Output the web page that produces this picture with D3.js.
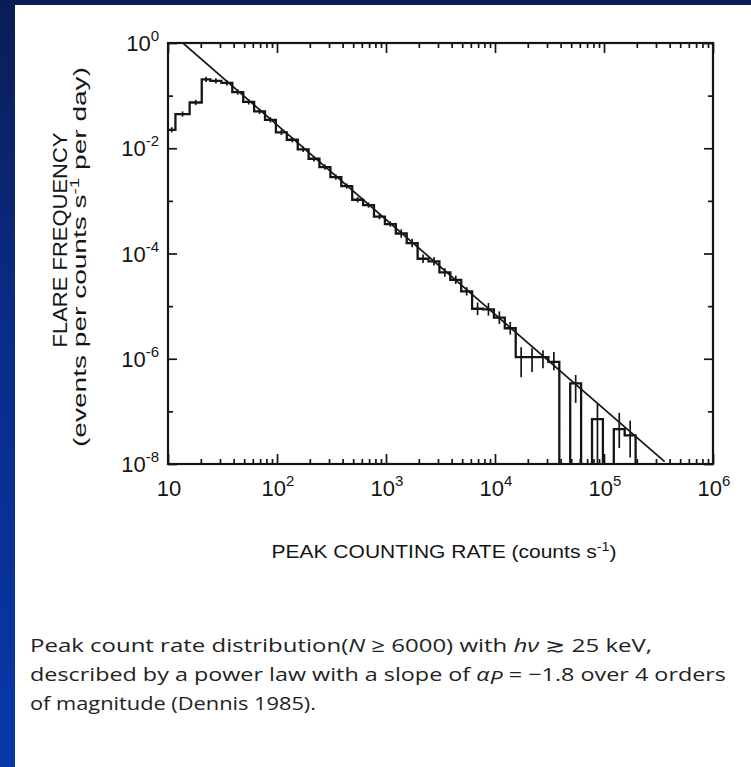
<!DOCTYPE html>
<html><head><meta charset="utf-8">
<script src="https://cdn.jsdelivr.net/npm/d3@7"></script>
<style>
html,body{margin:0;padding:0;}
body{width:751px;height:767px;overflow:hidden;background:linear-gradient(to bottom,#0b1d57 0%,#0a2c8a 45%,#0838a8 100%);}
svg{display:block;}
</style></head><body>
<svg id="chart" width="751" height="767"></svg>
<script>
// ---- data ----
// histogram bin edges, peak counting rate (counts s^-1)
const binEdges = [10, 11.7, 15.8, 20.4, 24.5, 30.9, 38.9, 49.0, 61.7, 77.6, 97.7,
  123, 155, 195, 245, 309, 389, 490, 617, 776, 977,
  1230, 1549, 1950, 2455, 3090, 3890, 4898, 6166, 7762, 9772,
  12303, 15488, 19498, 24547, 30903, 38905, 48978, 61660, 77625, 97724,
  123027, 154882, 194984];
// flare frequency per bin (events per counts s^-1 per day); 0 = empty bin
const frequency = [0.0224, 0.0447, 0.0741, 0.204, 0.191, 0.174, 0.117, 0.0759, 0.0501, 0.0347,
  0.0200, 0.0145, 0.00955, 0.00631, 0.00437, 0.00282, 0.00191, 0.00105, 0.000832, 0.000501,
  0.000363, 0.000240, 0.000158, 7.94e-5, 7.08e-5, 4.37e-5, 3.16e-5, 1.91e-5, 8.91e-6, 8.71e-6,
  6.03e-6, 3.80e-6, 1.07e-6, 1.07e-6, 1.07e-6, 8.7e-7, 0, 3.4e-7, 0, 7.1e-8,
  0, 4.6e-8, 3.5e-8];
// error bar extent above / below each value, in decades
const errUpDex = [0.05,0.05,0.05,0.05,0.05,0.05,0.05,0.05,0.05,0.05,
  0.05,0.05,0.05,0.05,0.05,0.05,0.05,0.05,0.05,0.05,
  0.05,0.08,0.08,0.08,0.08,0.08,0.08,0.08,0.12,0.12,
  0.12,0.12,0.19,0.17,0.13,0.19,0,0.16,0,0.31,
  0,0.31,0.28];
const errDownDex = [0.05,0.05,0.05,0.05,0.05,0.05,0.05,0.05,0.05,0.05,
  0.05,0.05,0.05,0.05,0.05,0.05,0.05,0.05,0.05,0.05,
  0.05,0.08,0.08,0.08,0.08,0.08,0.08,0.08,0.12,0.12,
  0.12,0.12,0.38,0.28,0.21,0.16,0,0.37,0,1.2,
  0,0.36,0.42];
// power-law fit: F = A * rate^slope
const fitAmplitude = 111;
const fitSlope = -1.8;
const fitRange = [13.7, 3.6e5];
// axis ticks
const xMajorTicks = [10, 1e2, 1e3, 1e4, 1e5, 1e6];
const xTickExponents = ["", "2", "3", "4", "5", "6"];
const yLabelTicks = [1, 1e-2, 1e-4, 1e-6, 1e-8];
const yTickExponents = ["0", "-2", "-4", "-6", "-8"];
const yOddTicks = [1e-1, 1e-3, 1e-5, 1e-7];
const xTitle = ["PEAK COUNTING RATE (counts s", "-1", ")"];
const yTitle1 = "FLARE FREQUENCY";
const yTitle2 = ["(events per counts s", "-1", " per day)"];

// ---- drawing ----
const svg = d3.select("#chart");
svg.append("rect").attr("x",15).attr("y",5).attr("width",751-15).attr("height",767-5).attr("fill","#ffffff");

const L=168, R=713, T=43, B=464;
const x = d3.scaleLog().domain([10,1e6]).range([L,R]);
const y = d3.scaleLog().domain([1e-8,1]).range([B,T]);
const ink = "#151515";
const font = "'Liberation Sans', Arial, Helvetica, sans-serif";

svg.append("clipPath").attr("id","plotclip").append("rect")
  .attr("x",L).attr("y",T).attr("width",R-L).attr("height",B-T);

const xMinor = [];
for (let d=10; d<1e6; d*=10) for (let k=2;k<=9;k++) xMinor.push(d*k);

function styleAxis(g){
  g.select(".domain").remove();
  g.selectAll(".tick line").attr("stroke",ink).attr("stroke-width",1.7);
}
// bottom
svg.append("g").attr("transform",`translate(0,${B})`)
  .call(d3.axisBottom(x).tickValues(xMinor).tickSize(-5).tickFormat(""))
  .call(styleAxis);
svg.append("g").attr("transform",`translate(0,${B})`)
  .call(d3.axisBottom(x).tickValues(xMajorTicks).tickSize(-10).tickFormat(""))
  .call(styleAxis);
// top
svg.append("g").attr("transform",`translate(0,${T})`)
  .call(d3.axisTop(x).tickValues(xMinor).tickSize(-5).tickFormat("")).call(styleAxis);
svg.append("g").attr("transform",`translate(0,${T})`)
  .call(d3.axisTop(x).tickValues(xMajorTicks).tickSize(-10).tickFormat("")).call(styleAxis);
// left
svg.append("g").attr("transform",`translate(${L},0)`)
  .call(d3.axisLeft(y).tickValues(yOddTicks).tickSize(-5).tickFormat("")).call(styleAxis);
svg.append("g").attr("transform",`translate(${L},0)`)
  .call(d3.axisLeft(y).tickValues(yLabelTicks).tickSize(-9).tickFormat("")).call(styleAxis);
// right
svg.append("g").attr("transform",`translate(${R},0)`)
  .call(d3.axisRight(y).tickValues(yOddTicks).tickSize(-5).tickFormat("")).call(styleAxis);
svg.append("g").attr("transform",`translate(${R},0)`)
  .call(d3.axisRight(y).tickValues(yLabelTicks).tickSize(-9).tickFormat("")).call(styleAxis);

// tick labels
const xl = svg.append("g").attr("font-family",font).attr("fill",ink);
xMajorTicks.forEach((v,i)=>{
  const t = xl.append("text").attr("x",x(v)+1).attr("y",B+32).attr("text-anchor","middle").attr("font-size",22);
  t.append("tspan").text("10");
  if (xTickExponents[i]) t.append("tspan").attr("font-size",15).attr("dy",-10).text(xTickExponents[i]);
});
const yl = svg.append("g").attr("font-family",font).attr("fill",ink);
yLabelTicks.forEach((v,i)=>{
  const t = yl.append("text").attr("x",L-9).attr("y",y(v)+8).attr("text-anchor","end").attr("font-size",22);
  t.append("tspan").text("10");
  t.append("tspan").attr("font-size",15).attr("dy",-10).text(yTickExponents[i]);
});

// frame
svg.append("rect").attr("x",L).attr("y",T).attr("width",R-L).attr("height",B-T)
  .attr("fill","none").attr("stroke",ink).attr("stroke-width",2.2);

const plot = svg.append("g").attr("clip-path","url(#plotclip)");

// power-law line
const fitPts = fitRange.map(r=>[r, fitAmplitude*Math.pow(r,fitSlope)]);
plot.append("path")
  .attr("d", d3.line().x(d=>x(d[0])).y(d=>y(d[1]))(fitPts))
  .attr("fill","none").attr("stroke",ink).attr("stroke-width",1.7);

// histogram steps
const yv = f => f>0 ? y(f) : B+2;
const stepPts = [];
frequency.forEach((f,i)=>{
  stepPts.push([x(binEdges[i]), yv(f)]);
  stepPts.push([x(binEdges[i+1]), yv(f)]);
});
stepPts.push([x(binEdges[binEdges.length-1]), B+2]);
plot.append("path")
  .attr("d", d3.line()(stepPts))
  .attr("fill","none").attr("stroke",ink).attr("stroke-width",2.3).attr("stroke-linejoin","miter");

// error bars
frequency.forEach((f,i)=>{
  if (!(f>0)) return;
  const c = Math.sqrt(binEdges[i]*binEdges[i+1]);
  plot.append("line")
    .attr("x1",x(c)).attr("x2",x(c))
    .attr("y1",y(f*Math.pow(10,errUpDex[i]))).attr("y2",y(f/Math.pow(10,errDownDex[i])))
    .attr("stroke",ink).attr("stroke-width",1.7);
});

// axis titles
const xt = svg.append("text").attr("x",444).attr("y",558).attr("text-anchor","middle")
  .attr("font-family",font).attr("font-size",19).attr("fill",ink)
  .attr("textLength",345).attr("lengthAdjust","spacingAndGlyphs");
xt.append("tspan").text(xTitle[0]);
xt.append("tspan").attr("font-size",13).attr("dy",-7).text(xTitle[1]);
xt.append("tspan").attr("dy",7).text(xTitle[2]);

svg.append("text").attr("transform","translate(67,240) rotate(-90)").attr("text-anchor","middle")
  .attr("font-family",font).attr("font-size",20).attr("fill",ink)
  .attr("textLength",215).attr("lengthAdjust","spacingAndGlyphs").text(yTitle1);
const yt2 = svg.append("text").attr("transform","translate(86,257) rotate(-90)").attr("text-anchor","middle")
  .attr("font-family",font).attr("font-size",18).attr("fill",ink)
  .attr("textLength",380).attr("lengthAdjust","spacingAndGlyphs");
yt2.append("tspan").text(yTitle2[0]);
yt2.append("tspan").attr("font-size",12).attr("dy",-7).text(yTitle2[1]);
yt2.append("tspan").attr("dy",7).text(yTitle2[2]);

// caption
const capFont = "'Open Sans', 'Liberation Sans', sans-serif";
const cap = svg.append("g").attr("font-family",capFont).attr("font-size",19).attr("fill","#222");
const c1 = cap.append("text").attr("x",30).attr("y",652).attr("textLength",622).attr("lengthAdjust","spacingAndGlyphs");
c1.append("tspan").text("Peak count rate distribution(");
c1.append("tspan").attr("font-style","italic").text("N");
c1.append("tspan").text(" ≥ 6000) with ");
c1.append("tspan").attr("font-style","italic").text("hν");
c1.append("tspan").text(" ≳ 25 keV,");
const c2 = cap.append("text").attr("x",30).attr("y",681).attr("textLength",696).attr("lengthAdjust","spacingAndGlyphs");
c2.append("tspan").text("described by a power law with a slope of ");
c2.append("tspan").attr("font-style","italic").text("α");
c2.append("tspan").attr("font-style","italic").attr("dy",3).text("P");
c2.append("tspan").attr("dy",-3).text(" = −1.8 over 4 orders");
cap.append("text").attr("x",30).attr("y",710).attr("textLength",286).attr("lengthAdjust","spacingAndGlyphs")
  .text("of magnitude (Dennis 1985).");
</script>
</body></html>
